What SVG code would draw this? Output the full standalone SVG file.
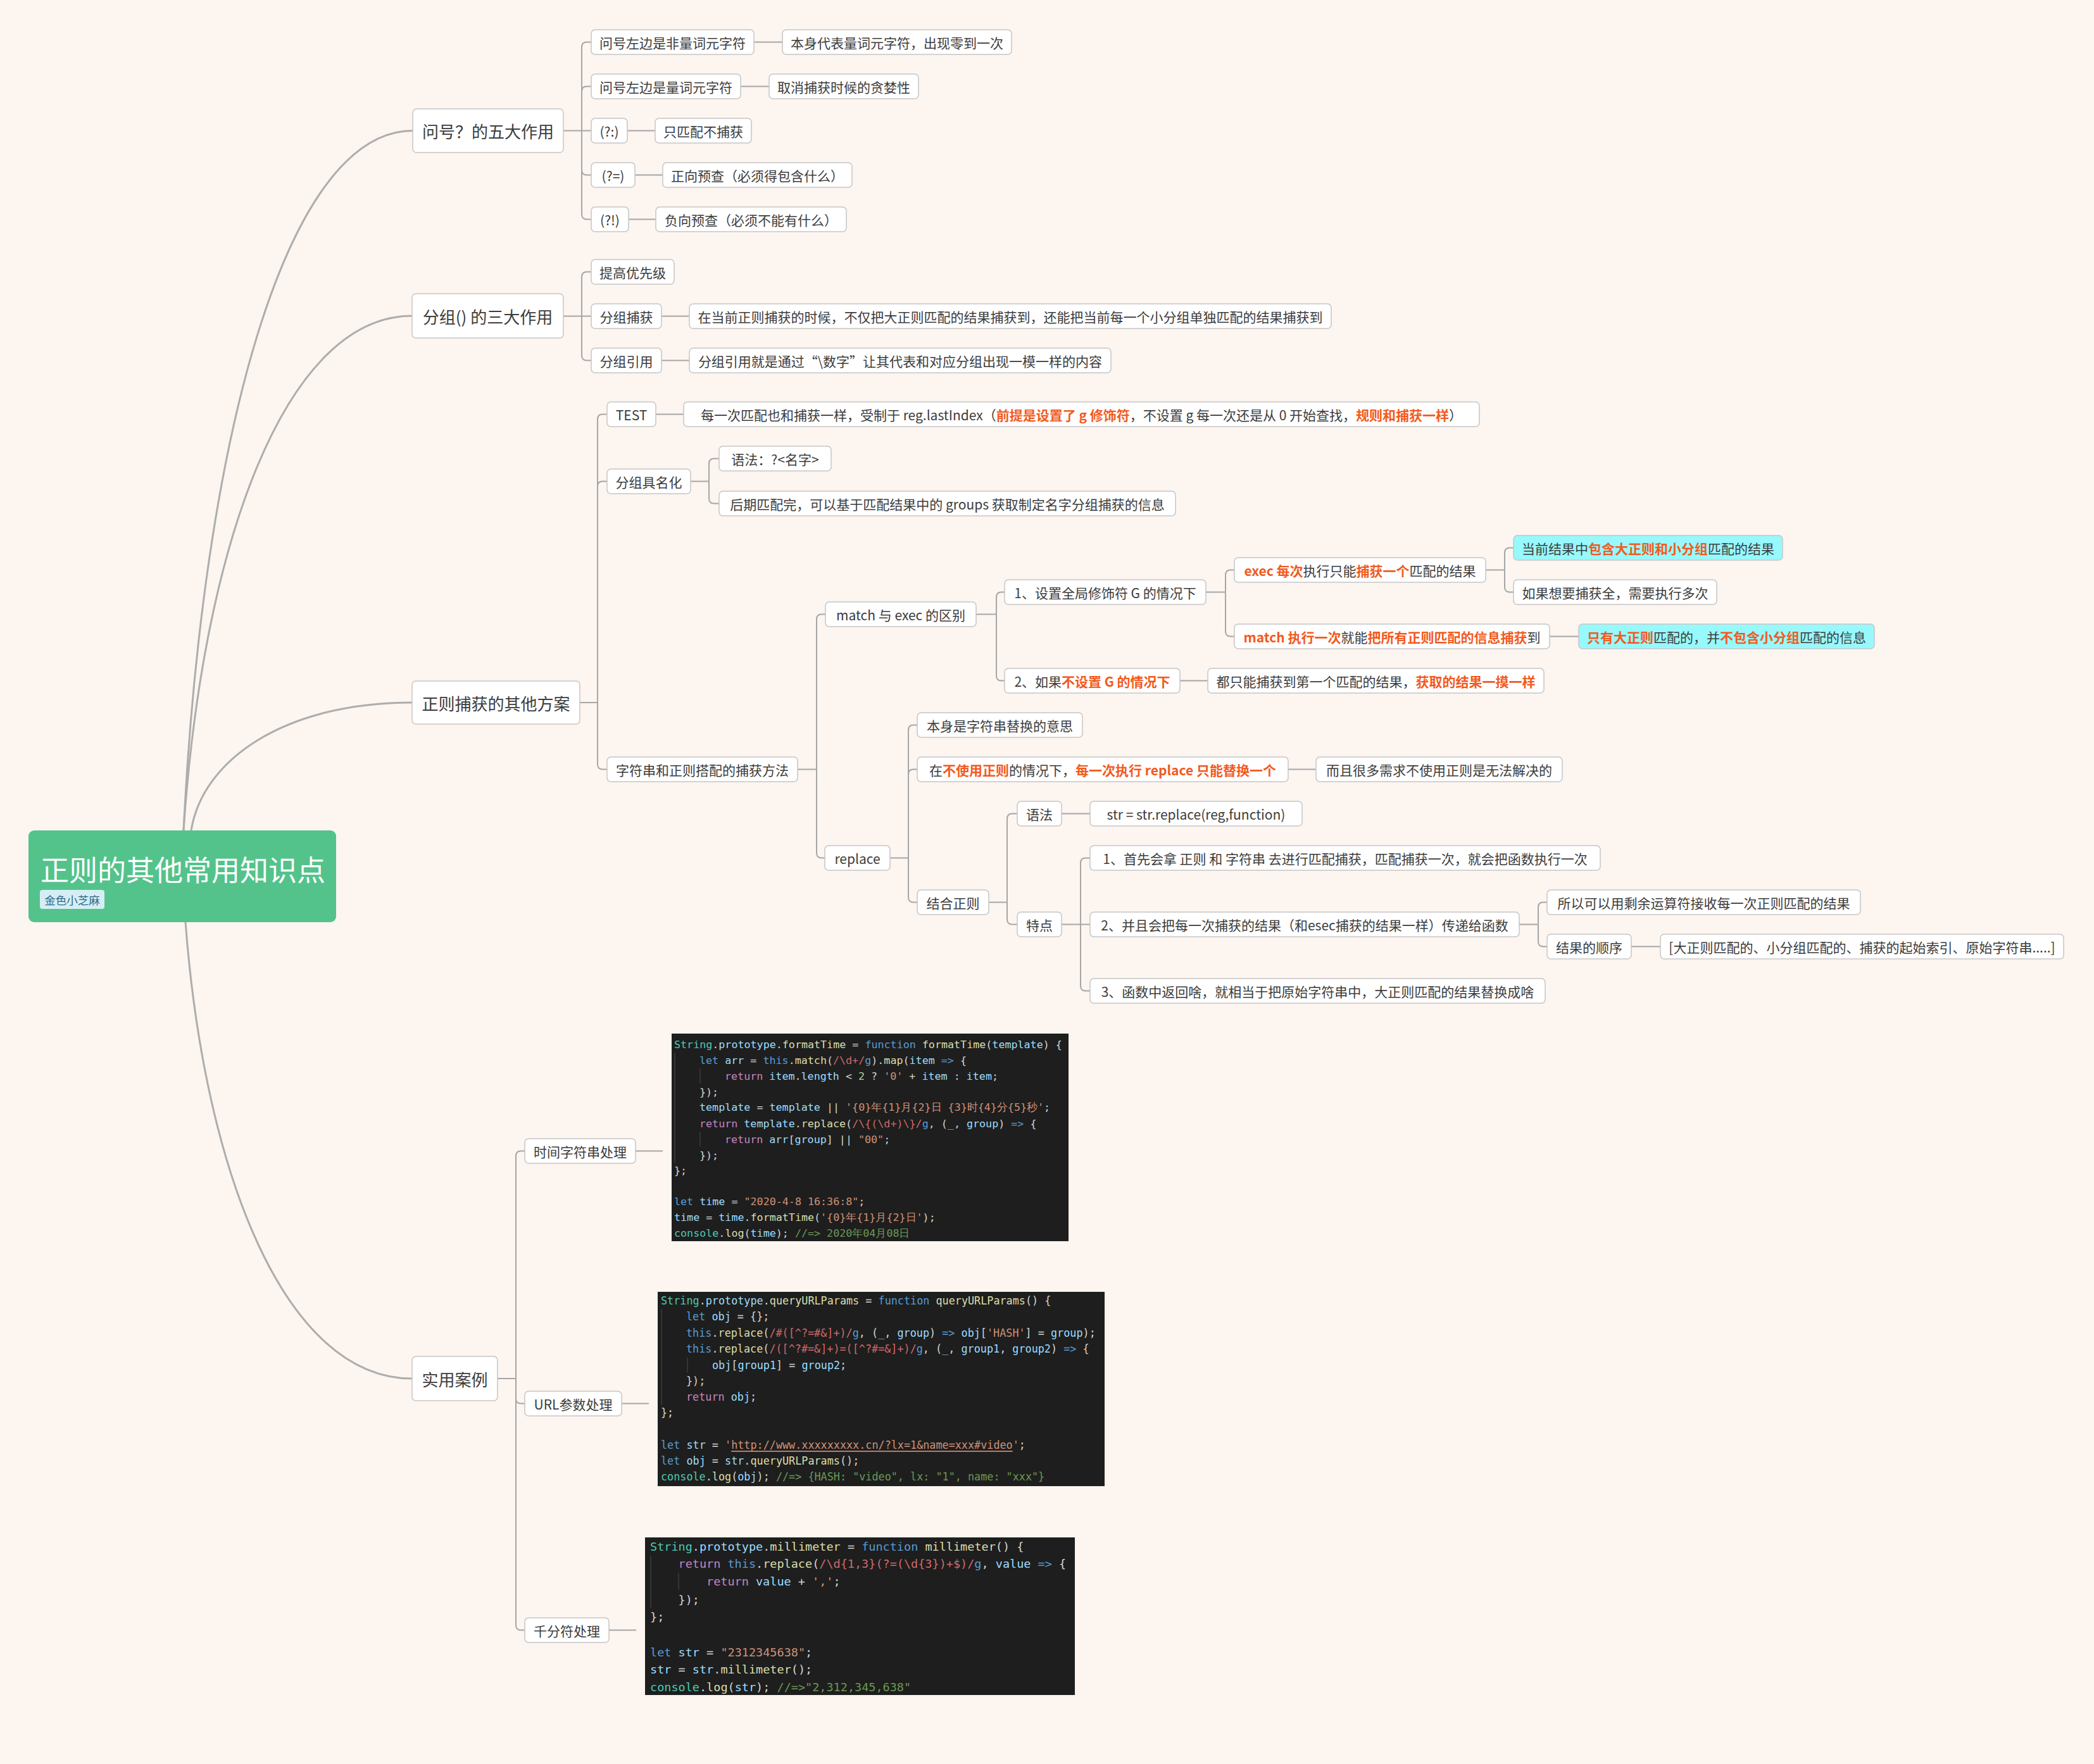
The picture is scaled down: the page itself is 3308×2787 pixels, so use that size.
<svg xmlns="http://www.w3.org/2000/svg" width="3308" height="2787" viewBox="0 0 3308 2787">
<style>
.n rect{fill:#ffffff;stroke:#c6c6c6;stroke-width:1.5}
.n.cy rect{fill:#97f9fc}
.n text{font-family:"Noto Sans CJK SC","Noto Sans",sans-serif;font-size:21px;fill:#3c3c3c;text-anchor:middle;dominant-baseline:central}
.n.t1 text{font-size:26px}
.hl{fill:#f25a1e;font-weight:bold}
.conn path{fill:none;stroke:#a6a6a6;stroke-width:2}
.conn path.main{stroke:#adadad;stroke-width:3}
.code text{font-family:"DejaVu Sans Mono","Liberation Mono",monospace;fill:#d4d4d4;dominant-baseline:central}
.c1 text{font-size:16.7px}
.c2 text{font-size:16.8px}
.c3 text{font-size:18.5px}
.code .g{stroke:#444;stroke-width:1.2}
.t{fill:#4ec9b0}.v{fill:#9cdcfe}.f{fill:#dcdcaa}.k{fill:#569cd6}.r{fill:#c586c0}.s{fill:#ce9178}.re{fill:#d16969}.nm{fill:#b5cea8}.cm{fill:#6a9955}
</style>
<rect x="0" y="0" width="3308" height="2787" fill="#fcf5f0"/>

<g id="connectors" class="conn">
<path class="main" d="M290,1312 C320,703 449,206.5 652,206.5"/>
<path class="main" d="M290,1312 C320,865 449,499 651,499"/>
<path class="main" d="M302,1312 C320,1200 450,1110 651,1110"/>
<path class="main" d="M293,1457 C323,1853 450,2178 651,2178"/>
<path d="M890,206.5 H919"/>
<path d="M919,206.5 V74.5 Q919,66.5 927,66.5 H934"/>
<path d="M919,206.5 V144.5 Q919,136.5 927,136.5 H934"/>
<path d="M919,206.5 H934"/>
<path d="M919,206.5 V268.5 Q919,276.5 927,276.5 H934"/>
<path d="M919,206.5 V338.5 Q919,346.5 927,346.5 H934"/>
<path d="M1191,66.5 H1236"/>
<path d="M1170,136.5 H1215"/>
<path d="M991,206.5 H1035"/>
<path d="M1003,276.5 H1047"/>
<path d="M993,346.5 H1036"/>
<path d="M890,499.5 H919"/>
<path d="M919,499.5 V437.5 Q919,429.5 927,429.5 H934"/>
<path d="M919,499.5 H934"/>
<path d="M919,499.5 V561.5 Q919,569.5 927,569.5 H934"/>
<path d="M1045,499.5 H1089"/>
<path d="M1045,569.5 H1089"/>
<path d="M916,1110 H944"/>
<path d="M944,1110 V662.5 Q944,654.5 952,654.5 H959"/>
<path d="M944,1110 V768.5 Q944,760.5 952,760.5 H959"/>
<path d="M944,1110 V1207.5 Q944,1215.5 952,1215.5 H959"/>
<path d="M1036,654.5 H1080"/>
<path d="M1091,760.5 H1120"/>
<path d="M1120,760.5 V732.5 Q1120,724.5 1128,724.5 H1136"/>
<path d="M1120,760.5 V787.5 Q1120,795.5 1128,795.5 H1136"/>
<path d="M1260,1215.5 H1290"/>
<path d="M1290,1215.5 V978.5 Q1290,970.5 1298,970.5 H1304"/>
<path d="M1290,1215.5 V1347.5 Q1290,1355.5 1298,1355.5 H1303"/>
<path d="M1542,970.5 H1574"/>
<path d="M1574,970.5 V943.5 Q1574,935.5 1582,935.5 H1587"/>
<path d="M1574,970.5 V1067.5 Q1574,1075.5 1582,1075.5 H1587"/>
<path d="M1905,935.5 H1936"/>
<path d="M1936,935.5 V908.5 Q1936,900.5 1944,900.5 H1950"/>
<path d="M1936,935.5 V997.5 Q1936,1005.5 1944,1005.5 H1950"/>
<path d="M2347,900.5 H2377"/>
<path d="M2377,900.5 V873.5 Q2377,865.5 2385,865.5 H2391"/>
<path d="M2377,900.5 V927.5 Q2377,935.5 2385,935.5 H2391"/>
<path d="M2448,1005.5 H2494"/>
<path d="M1864,1075.5 H1908"/>
<path d="M1406,1355.5 H1435"/>
<path d="M1435,1355.5 V1153.5 Q1435,1145.5 1443,1145.5 H1449"/>
<path d="M1435,1355.5 V1223.5 Q1435,1215.5 1443,1215.5 H1449"/>
<path d="M1435,1355.5 V1417.5 Q1435,1425.5 1443,1425.5 H1449"/>
<path d="M2035,1215.5 H2079"/>
<path d="M1562,1425.5 H1591"/>
<path d="M1591,1425.5 V1293.5 Q1591,1285.5 1599,1285.5 H1607"/>
<path d="M1591,1425.5 V1452.5 Q1591,1460.5 1599,1460.5 H1607"/>
<path d="M1677,1285.5 H1722"/>
<path d="M1677,1460.5 H1707"/>
<path d="M1707,1460.5 V1363.5 Q1707,1355.5 1715,1355.5 H1722"/>
<path d="M1707,1460.5 H1722"/>
<path d="M1707,1460.5 V1557.5 Q1707,1565.5 1715,1565.5 H1722"/>
<path d="M2400,1460.5 H2430"/>
<path d="M2430,1460.5 V1433.5 Q2430,1425.5 2438,1425.5 H2444"/>
<path d="M2430,1460.5 V1487.5 Q2430,1495.5 2438,1495.5 H2444"/>
<path d="M2577,1495.5 H2623"/>
<path d="M786,2178 H815"/>
<path d="M815,2178 V1826.5 Q815,1818.5 823,1818.5 H829"/>
<path d="M815,2178 V2209.5 Q815,2217.5 823,2217.5 H829"/>
<path d="M815,2178 V2567.5 Q815,2575.5 823,2575.5 H829"/>
<path d="M1004,1818.5 H1047"/>
<path d="M982,2217.5 H1025"/>
<path d="M962,2575.5 H1005"/>
</g>

<g id="root">
<rect x="45" y="1312" width="486" height="145" rx="9" fill="#53c38b"/>
<text x="64" y="1372" font-family="'Noto Sans CJK SC','Noto Sans',sans-serif" font-size="45" fill="#ffffff" dominant-baseline="central">正则的其他常用知识点</text>
<rect x="63" y="1406" width="102" height="30" rx="4" fill="#d5eef6"/>
<text x="114" y="1421" font-family="'Noto Sans CJK SC','Noto Sans',sans-serif" font-size="17.5" fill="#2b6b86" text-anchor="middle" dominant-baseline="central">金色小芝麻</text>
</g>

<g id="t1" class="n t1"><rect x="652" y="172" width="238" height="69" rx="6"/><text x="771" y="206.5">问号？的五大作用</text></g>
<g id="a1" class="n"><rect x="934" y="47" width="257" height="39" rx="6"/><text x="1062.5" y="66.5">问号左边是非量词元字符</text></g>
<g id="a1c" class="n"><rect x="1236" y="47" width="362" height="39" rx="6"/><text x="1417" y="66.5">本身代表量词元字符，出现零到一次</text></g>
<g id="a2" class="n"><rect x="934" y="117" width="236" height="39" rx="6"/><text x="1052" y="136.5">问号左边是量词元字符</text></g>
<g id="a2c" class="n"><rect x="1215" y="117" width="236" height="39" rx="6"/><text x="1333" y="136.5">取消捕获时候的贪婪性</text></g>
<g id="a3" class="n"><rect x="934" y="187" width="57" height="39" rx="6"/><text x="962.5" y="206.5">(?:)</text></g>
<g id="a3c" class="n"><rect x="1035" y="187" width="152" height="39" rx="6"/><text x="1111" y="206.5">只匹配不捕获</text></g>
<g id="a4" class="n"><rect x="934" y="257" width="69" height="39" rx="6"/><text x="968.5" y="276.5">(?=)</text></g>
<g id="a4c" class="n"><rect x="1047" y="257" width="299" height="39" rx="6"/><text x="1196.5" y="276.5">正向预查（必须得包含什么）</text></g>
<g id="a5" class="n"><rect x="934" y="327" width="59" height="39" rx="6"/><text x="963.5" y="346.5">(?!)</text></g>
<g id="a5c" class="n"><rect x="1036" y="327" width="301" height="39" rx="6"/><text x="1186.5" y="346.5">负向预查（必须不能有什么）</text></g>

<g id="t2" class="n t1"><rect x="651" y="464" width="239" height="70" rx="6"/><text x="770.5" y="499">分组() 的三大作用</text></g>
<g id="b1" class="n"><rect x="934" y="410" width="131" height="39" rx="6"/><text x="999.5" y="429.5">提高优先级</text></g>
<g id="b2" class="n"><rect x="934" y="480" width="111" height="39" rx="6"/><text x="989.5" y="499.5">分组捕获</text></g>
<g id="b2c" class="n"><rect x="1089" y="480" width="1014" height="39" rx="6"/><text x="1596" y="499.5">在当前正则捕获的时候，不仅把大正则匹配的结果捕获到，还能把当前每一个小分组单独匹配的结果捕获到</text></g>
<g id="b3" class="n"><rect x="934" y="550" width="111" height="39" rx="6"/><text x="989.5" y="569.5">分组引用</text></g>
<g id="b3c" class="n"><rect x="1089" y="550" width="666" height="39" rx="6"/><text x="1422" y="569.5">分组引用就是通过“\数字”让其代表和对应分组出现一模一样的内容</text></g>

<g id="t3" class="n t1"><rect x="651" y="1076" width="265" height="68" rx="6"/><text x="783.5" y="1110">正则捕获的其他方案</text></g>
<g id="c1" class="n"><rect x="959" y="635" width="77" height="39" rx="6"/><text x="997.5" y="654.5">TEST</text></g>
<g id="c1c" class="n"><rect x="1080" y="635" width="1257" height="39" rx="6"/><text x="1708.5" y="654.5">每一次匹配也和捕获一样，受制于 reg.lastIndex（<tspan class="hl">前提是设置了 g 修饰符</tspan>，不设置 g 每一次还是从 0 开始查找，<tspan class="hl">规则和捕获一样</tspan>）</text></g>
<g id="c2" class="n"><rect x="959" y="741" width="132" height="39" rx="6"/><text x="1025" y="760.5">分组具名化</text></g>
<g id="c2a" class="n"><rect x="1136" y="705" width="177" height="39" rx="6"/><text x="1224.5" y="724.5">语法：?&lt;名字&gt;</text></g>
<g id="c2b" class="n"><rect x="1136" y="776" width="721" height="39" rx="6"/><text x="1496.5" y="795.5">后期匹配完，可以基于匹配结果中的 groups 获取制定名字分组捕获的信息</text></g>
<g id="c3" class="n"><rect x="959" y="1196" width="301" height="39" rx="6"/><text x="1109.5" y="1215.5">字符串和正则搭配的捕获方法</text></g>
<g id="d1" class="n"><rect x="1304" y="951" width="238" height="39" rx="6"/><text x="1423" y="970.5">match 与 exec 的区别</text></g>
<g id="e1" class="n"><rect x="1587" y="916" width="318" height="39" rx="6"/><text x="1746" y="935.5">1、设置全局修饰符 G 的情况下</text></g>
<g id="f1" class="n"><rect x="1950" y="881" width="397" height="39" rx="6"/><text x="2148.5" y="900.5"><tspan class="hl">exec 每次</tspan>执行只能<tspan class="hl">捕获一个</tspan>匹配的结果</text></g>
<g id="g1" class="n cy"><rect x="2391" y="846" width="425" height="39" rx="6"/><text x="2603.5" y="865.5">当前结果中<tspan class="hl">包含大正则和小分组</tspan>匹配的结果</text></g>
<g id="g2" class="n"><rect x="2391" y="916" width="321" height="39" rx="6"/><text x="2551.5" y="935.5">如果想要捕获全，需要执行多次</text></g>
<g id="f2" class="n"><rect x="1950" y="986" width="498" height="39" rx="6"/><text x="2199" y="1005.5"><tspan class="hl">match 执行一次</tspan>就能<tspan class="hl">把所有正则匹配的信息捕获</tspan>到</text></g>
<g id="g3" class="n cy"><rect x="2494" y="986" width="467" height="39" rx="6"/><text x="2727.5" y="1005.5"><tspan class="hl">只有大正则</tspan>匹配的，并<tspan class="hl">不包含小分组</tspan>匹配的信息</text></g>
<g id="e2" class="n"><rect x="1587" y="1056" width="277" height="39" rx="6"/><text x="1725.5" y="1075.5">2、如果<tspan class="hl">不设置 G 的情况下</tspan></text></g>
<g id="e2c" class="n"><rect x="1908" y="1056" width="531" height="39" rx="6"/><text x="2173.5" y="1075.5">都只能捕获到第一个匹配的结果，<tspan class="hl">获取的结果一摸一样</tspan></text></g>
<g id="d2" class="n"><rect x="1303" y="1336" width="103" height="39" rx="6"/><text x="1354.5" y="1355.5">replace</text></g>
<g id="h1" class="n"><rect x="1449" y="1126" width="261" height="39" rx="6"/><text x="1579.5" y="1145.5">本身是字符串替换的意思</text></g>
<g id="h2" class="n"><rect x="1449" y="1196" width="586" height="39" rx="6"/><text x="1742" y="1215.5">在<tspan class="hl">不使用正则</tspan>的情况下，<tspan class="hl">每一次执行 replace 只能替换一个</tspan></text></g>
<g id="h2c" class="n"><rect x="2079" y="1196" width="389" height="39" rx="6"/><text x="2273.5" y="1215.5">而且很多需求不使用正则是无法解决的</text></g>
<g id="h3" class="n"><rect x="1449" y="1406" width="113" height="39" rx="6"/><text x="1505.5" y="1425.5">结合正则</text></g>
<g id="i1" class="n"><rect x="1607" y="1266" width="70" height="39" rx="6"/><text x="1642" y="1285.5">语法</text></g>
<g id="i1c" class="n"><rect x="1722" y="1266" width="335" height="39" rx="6"/><text x="1889.5" y="1285.5">str = str.replace(reg,function)</text></g>
<g id="i2" class="n"><rect x="1607" y="1441" width="70" height="39" rx="6"/><text x="1642" y="1460.5">特点</text></g>
<g id="j1" class="n"><rect x="1722" y="1336" width="806" height="39" rx="6"/><text x="2125" y="1355.5">1、首先会拿 正则 和 字符串 去进行匹配捕获，匹配捕获一次，就会把函数执行一次</text></g>
<g id="j2" class="n"><rect x="1722" y="1441" width="678" height="39" rx="6"/><text x="2061" y="1460.5">2、并且会把每一次捕获的结果（和esec捕获的结果一样）传递给函数</text></g>
<g id="k1" class="n"><rect x="2444" y="1406" width="495" height="39" rx="6"/><text x="2691.5" y="1425.5">所以可以用剩余运算符接收每一次正则匹配的结果</text></g>
<g id="k2" class="n"><rect x="2444" y="1476" width="133" height="39" rx="6"/><text x="2510.5" y="1495.5">结果的顺序</text></g>
<g id="k2c" class="n"><rect x="2623" y="1476" width="637" height="39" rx="6"/><text x="2941.5" y="1495.5">[大正则匹配的、小分组匹配的、捕获的起始索引、原始字符串.....]</text></g>
<g id="j3" class="n"><rect x="1722" y="1546" width="719" height="39" rx="6"/><text x="2081.5" y="1565.5">3、函数中返回啥，就相当于把原始字符串中，大正则匹配的结果替换成啥</text></g>

<g id="t4" class="n t1"><rect x="651" y="2143" width="135" height="70" rx="6"/><text x="718.5" y="2178">实用案例</text></g>
<g id="m1" class="n"><rect x="829" y="1799" width="175" height="39" rx="6"/><text x="916.5" y="1818.5">时间字符串处理</text></g>
<g id="m2" class="n"><rect x="829" y="2198" width="153" height="39" rx="6"/><text x="905.5" y="2217.5">URL参数处理</text></g>
<g id="m3" class="n"><rect x="829" y="2556" width="133" height="39" rx="6"/><text x="895.5" y="2575.5">千分符处理</text></g>

<g id="code1" class="code c1">
<rect x="1061" y="1633" width="627" height="328" fill="#1e1e1e"/>
<line class="g" x1="1066" y1="1663" x2="1066" y2="1837"/>
<line class="g" x1="1106" y1="1688" x2="1106" y2="1712"/>
<line class="g" x1="1106" y1="1788" x2="1106" y2="1812"/>
<text x="1065" y="1650" xml:space="preserve"><tspan class="t">String</tspan>.<tspan class="v">prototype</tspan>.<tspan class="f">formatTime</tspan> = <tspan class="k">function</tspan> <tspan class="f">formatTime</tspan>(<tspan class="v">template</tspan>) {</text>
<text x="1105" y="1675" xml:space="preserve"><tspan class="k">let</tspan> <tspan class="v">arr</tspan> = <tspan class="k">this</tspan>.<tspan class="f">match</tspan>(<tspan class="re">/\d+/</tspan><tspan class="k">g</tspan>).<tspan class="f">map</tspan>(<tspan class="v">item</tspan> <tspan class="k">=&gt;</tspan> {</text>
<text x="1145" y="1700" xml:space="preserve"><tspan class="r">return</tspan> <tspan class="v">item</tspan>.<tspan class="v">length</tspan> &lt; <tspan class="nm">2</tspan> ? <tspan class="s">'0'</tspan> + <tspan class="v">item</tspan> : <tspan class="v">item</tspan>;</text>
<text x="1105" y="1725" xml:space="preserve">});</text>
<text x="1105" y="1749" xml:space="preserve"><tspan class="v">template</tspan> = <tspan class="v">template</tspan> || <tspan class="s">'{0}年{1}月{2}日 {3}时{4}分{5}秒'</tspan>;</text>
<text x="1105" y="1775" xml:space="preserve"><tspan class="r">return</tspan> <tspan class="v">template</tspan>.<tspan class="f">replace</tspan>(<tspan class="re">/\{(\d+)\}/</tspan><tspan class="k">g</tspan>, (<tspan class="v">_</tspan>, <tspan class="v">group</tspan>) <tspan class="k">=&gt;</tspan> {</text>
<text x="1145" y="1800" xml:space="preserve"><tspan class="r">return</tspan> <tspan class="v">arr</tspan>[<tspan class="v">group</tspan>] || <tspan class="s">"00"</tspan>;</text>
<text x="1105" y="1825" xml:space="preserve">});</text>
<text x="1065" y="1849" xml:space="preserve">};</text>
<text x="1065" y="1898" xml:space="preserve"><tspan class="k">let</tspan> <tspan class="v">time</tspan> = <tspan class="s">"2020-4-8 16:36:8"</tspan>;</text>
<text x="1065" y="1923" xml:space="preserve"><tspan class="v">time</tspan> = <tspan class="v">time</tspan>.<tspan class="f">formatTime</tspan>(<tspan class="s">'{0}年{1}月{2}日'</tspan>);</text>
<text x="1065" y="1948" xml:space="preserve"><tspan class="t">console</tspan>.<tspan class="f">log</tspan>(<tspan class="v">time</tspan>); <tspan class="cm">//=&gt; 2020年04月08日</tspan></text>
</g>

<g id="code2" class="code c2">
<rect x="1039" y="2041" width="706" height="307" fill="#1e1e1e"/>
<line class="g" x1="1045" y1="2068" x2="1045" y2="2220"/>
<line class="g" x1="1086" y1="2145" x2="1086" y2="2169"/>
<text x="1044" y="2055" xml:space="preserve"><tspan class="t">String</tspan>.<tspan class="v">prototype</tspan>.<tspan class="f">queryURLParams</tspan> = <tspan class="k">function</tspan> <tspan class="f">queryURLParams</tspan>() {</text>
<text x="1084" y="2080" xml:space="preserve"><tspan class="k">let</tspan> <tspan class="v">obj</tspan> = {};</text>
<text x="1084" y="2106" xml:space="preserve"><tspan class="k">this</tspan>.<tspan class="f">replace</tspan>(<tspan class="re">/#([^?=#&amp;]+)/</tspan><tspan class="k">g</tspan>, (<tspan class="v">_</tspan>, <tspan class="v">group</tspan>) <tspan class="k">=&gt;</tspan> <tspan class="v">obj</tspan>[<tspan class="s">'HASH'</tspan>] = <tspan class="v">group</tspan>);</text>
<text x="1084" y="2131" xml:space="preserve"><tspan class="k">this</tspan>.<tspan class="f">replace</tspan>(<tspan class="re">/([^?#=&amp;]+)=([^?#=&amp;]+)/</tspan><tspan class="k">g</tspan>, (<tspan class="v">_</tspan>, <tspan class="v">group1</tspan>, <tspan class="v">group2</tspan>) <tspan class="k">=&gt;</tspan> {</text>
<text x="1125" y="2157" xml:space="preserve"><tspan class="v">obj</tspan>[<tspan class="v">group1</tspan>] = <tspan class="v">group2</tspan>;</text>
<text x="1084" y="2182" xml:space="preserve">});</text>
<text x="1084" y="2207" xml:space="preserve"><tspan class="r">return</tspan> <tspan class="v">obj</tspan>;</text>
<text x="1044" y="2232" xml:space="preserve">};</text>
<text x="1044" y="2283" xml:space="preserve"><tspan class="k">let</tspan> <tspan class="v">str</tspan> = <tspan class="s">'<tspan text-decoration="underline">http://www.xxxxxxxxx.cn/?lx=1&amp;name=xxx#video</tspan>'</tspan>;</text>
<text x="1044" y="2308" xml:space="preserve"><tspan class="k">let</tspan> <tspan class="v">obj</tspan> = <tspan class="v">str</tspan>.<tspan class="f">queryURLParams</tspan>();</text>
<text x="1044" y="2333" xml:space="preserve"><tspan class="t">console</tspan>.<tspan class="f">log</tspan>(<tspan class="v">obj</tspan>); <tspan class="cm">//=&gt; {HASH: "video", lx: "1", name: "xxx"}</tspan></text>
</g>

<g id="code3" class="code c3">
<rect x="1019" y="2429" width="679" height="249" fill="#1e1e1e"/>
<line class="g" x1="1028" y1="2458" x2="1028" y2="2540"/>
<line class="g" x1="1072" y1="2485" x2="1072" y2="2512"/>
<text x="1027" y="2443" xml:space="preserve"><tspan class="t">String</tspan>.<tspan class="v">prototype</tspan>.<tspan class="f">millimeter</tspan> = <tspan class="k">function</tspan> <tspan class="f">millimeter</tspan>() {</text>
<text x="1071.5" y="2470" xml:space="preserve"><tspan class="r">return</tspan> <tspan class="k">this</tspan>.<tspan class="f">replace</tspan>(<tspan class="re">/\d{1,3}(?=(\d{3})+$)/</tspan><tspan class="k">g</tspan>, <tspan class="v">value</tspan> <tspan class="k">=&gt;</tspan> {</text>
<text x="1116" y="2498" xml:space="preserve"><tspan class="r">return</tspan> <tspan class="v">value</tspan> + <tspan class="s">','</tspan>;</text>
<text x="1071.5" y="2527" xml:space="preserve">});</text>
<text x="1027" y="2554" xml:space="preserve">};</text>
<text x="1027" y="2610" xml:space="preserve"><tspan class="k">let</tspan> <tspan class="v">str</tspan> = <tspan class="s">"2312345638"</tspan>;</text>
<text x="1027" y="2637" xml:space="preserve"><tspan class="v">str</tspan> = <tspan class="v">str</tspan>.<tspan class="f">millimeter</tspan>();</text>
<text x="1027" y="2665" xml:space="preserve"><tspan class="t">console</tspan>.<tspan class="f">log</tspan>(<tspan class="v">str</tspan>); <tspan class="cm">//=&gt;"2,312,345,638"</tspan></text>
</g>
</svg>
